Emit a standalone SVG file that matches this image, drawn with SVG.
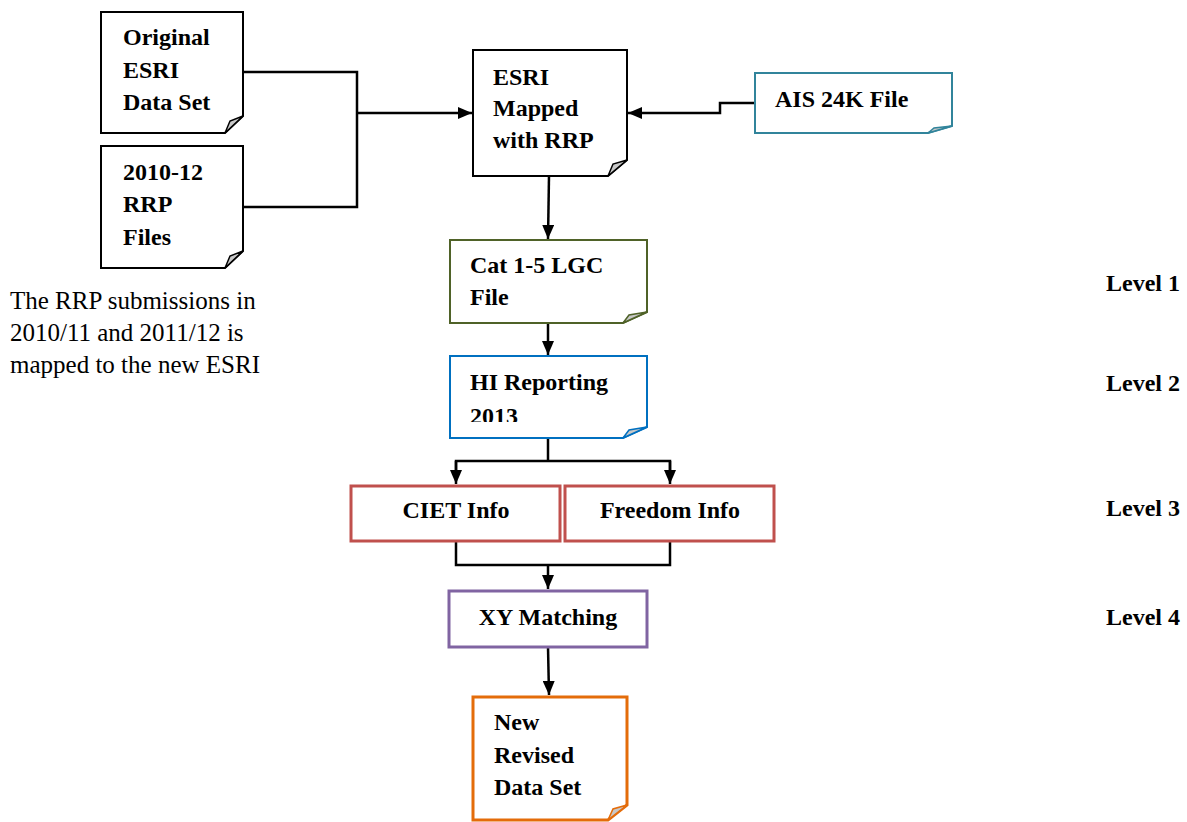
<svg xmlns="http://www.w3.org/2000/svg" width="1187" height="822" viewBox="0 0 1187 822">
  <style>
    .lbl { font-family: "Liberation Serif", "Times New Roman", serif; font-weight: bold; font-size: 24px; fill: #000; }
    .lvl { font-family: "Liberation Serif", "Times New Roman", serif; font-weight: bold; font-size: 24px; fill: #000; }
    .note { font-family: "Liberation Serif", "Times New Roman", serif; font-size: 25px; fill: #000; }
    .box { fill: #fff; stroke-width: 2; stroke-linejoin: miter; }
    .thick { stroke-width: 3; }
    .fold { fill: #c8c8c8; stroke-width: 1.5; stroke-linejoin: miter; }
    .conn { fill: none; stroke: #000; stroke-width: 2.5; }
  </style>
  <defs>
    <marker id="arrow" viewBox="0 0 14 12" refX="14" refY="6" markerWidth="14" markerHeight="12" markerUnits="userSpaceOnUse" orient="auto">
      <path d="M0,0 L14,6 L0,12 Z" fill="#000"/>
    </marker>
    <clipPath id="hiClip"><rect x="451" y="357" width="195" height="65"/></clipPath>
  </defs>

  <rect width="1187" height="822" fill="#fff"/>

  <!-- connectors -->
  <g id="connectors">
    <polyline class="conn" points="243,72 357,72 357,207 243,207"/>
    <line class="conn" x1="357" y1="113" x2="472" y2="113" marker-end="url(#arrow)"/>
    <polyline class="conn" points="755,103 720,103 720,113 628,113" marker-end="url(#arrow)"/>
    <line class="conn" x1="549" y1="176" x2="548" y2="239" marker-end="url(#arrow)"/>
    <line class="conn" x1="548" y1="323" x2="548" y2="355" marker-end="url(#arrow)"/>
    <polyline class="conn" points="548,438 548,461"/>
    <polyline class="conn" points="456,472 456,461 670,461 670,472"/>
    <line class="conn" x1="456" y1="461" x2="456" y2="484" marker-end="url(#arrow)"/>
    <line class="conn" x1="670" y1="461" x2="670" y2="484" marker-end="url(#arrow)"/>
    <polyline class="conn" points="456,541 456,565 670,565 670,541"/>
    <line class="conn" x1="548" y1="565" x2="548" y2="589" marker-end="url(#arrow)"/>
    <line class="conn" x1="548" y1="647" x2="549" y2="695" marker-end="url(#arrow)"/>
  </g>

  <!-- Original ESRI Data Set -->
  <g id="node-original">
    <path class="box" stroke="#000" d="M101,12 H243 V116 L225,133 H101 Z"/>
    <path class="fold" stroke="#000" d="M225,133 L230,121 L243,116 Z"/>
    <text class="lbl" x="123" y="45">Original</text>
    <text class="lbl" x="123" y="78">ESRI</text>
    <text class="lbl" x="123" y="110">Data Set</text>
  </g>

  <!-- 2010-12 RRP Files -->
  <g id="node-rrp">
    <path class="box" stroke="#000" d="M101,146 H243 V251 L225,268 H101 Z"/>
    <path class="fold" stroke="#000" d="M225,268 L230,256 L243,251 Z"/>
    <text class="lbl" x="123" y="180">2010-12</text>
    <text class="lbl" x="123" y="212">RRP</text>
    <text class="lbl" x="123" y="245">Files</text>
  </g>

  <!-- ESRI Mapped with RRP -->
  <g id="node-mapped">
    <path class="box" stroke="#000" d="M473,50 H627 V160 L608,176 H473 Z"/>
    <path class="fold" stroke="#000" d="M608,176 L613,164 L627,160 Z"/>
    <text class="lbl" x="493" y="85">ESRI</text>
    <text class="lbl" x="493" y="116">Mapped</text>
    <text class="lbl" x="493" y="148">with RRP</text>
  </g>

  <!-- AIS 24K File -->
  <g id="node-ais">
    <path class="box" stroke="#31849B" d="M755,73 H952 V126 L928,133 H755 Z"/>
    <path class="fold" stroke="#31849B" d="M928,133 L934,128 L952,126 Z"/>
    <text class="lbl" x="775" y="107">AIS 24K File</text>
  </g>

  <!-- Cat 1-5 LGC File -->
  <g id="node-cat">
    <path class="box" stroke="#4F6228" d="M450,240 H647 V312 L623,323 H450 Z"/>
    <path class="fold" stroke="#4F6228" d="M623,323 L629,315 L647,312 Z"/>
    <text class="lbl" x="470" y="273">Cat 1-5 LGC</text>
    <text class="lbl" x="470" y="305">File</text>
  </g>

  <!-- HI Reporting 2013 -->
  <g id="node-hi">
    <path class="box" stroke="#0070C0" d="M450,356 H647 V427 L623,438 H450 Z"/>
    <path class="fold" stroke="#0070C0" d="M623,438 L629,430 L647,427 Z"/>
    <g clip-path="url(#hiClip)">
      <text class="lbl" x="470" y="390">HI Reporting</text>
      <text class="lbl" x="470" y="424">2013</text>
    </g>
  </g>

  <!-- CIET Info -->
  <g id="node-ciet">
    <rect x="351" y="486" width="209" height="55" fill="#fff" stroke="#C0504D" stroke-width="3"/>
    <text class="lbl" x="456" y="518" text-anchor="middle">CIET Info</text>
  </g>

  <!-- Freedom Info -->
  <g id="node-freedom">
    <rect x="565" y="486" width="209" height="55" fill="#fff" stroke="#C0504D" stroke-width="3"/>
    <text class="lbl" x="670" y="518" text-anchor="middle">Freedom Info</text>
  </g>

  <!-- XY Matching -->
  <g id="node-xy">
    <rect x="449" y="591" width="198" height="56" fill="#fff" stroke="#8064A2" stroke-width="3"/>
    <text class="lbl" x="548" y="625" text-anchor="middle">XY Matching</text>
  </g>

  <!-- New Revised Data Set -->
  <g id="node-new">
    <path class="box thick" stroke="#E46C0A" d="M473,697 H627 V805 L608,820 H473 Z"/>
    <path class="fold" stroke="#E46C0A" d="M608,820 L613,809 L627,805 Z"/>
    <text class="lbl" x="494" y="730">New</text>
    <text class="lbl" x="494" y="763">Revised</text>
    <text class="lbl" x="494" y="795">Data Set</text>
  </g>

  <!-- side note -->
  <g id="note">
    <text class="note" x="10" y="309">The RRP submissions in</text>
    <text class="note" x="10" y="341">2010/11 and 2011/12 is</text>
    <text class="note" x="10" y="373">mapped to the new ESRI</text>
  </g>

  <!-- level labels -->
  <g id="levels">
    <text class="lvl" x="1106" y="291">Level 1</text>
    <text class="lvl" x="1106" y="391">Level 2</text>
    <text class="lvl" x="1106" y="516">Level 3</text>
    <text class="lvl" x="1106" y="625">Level 4</text>
  </g>
</svg>
